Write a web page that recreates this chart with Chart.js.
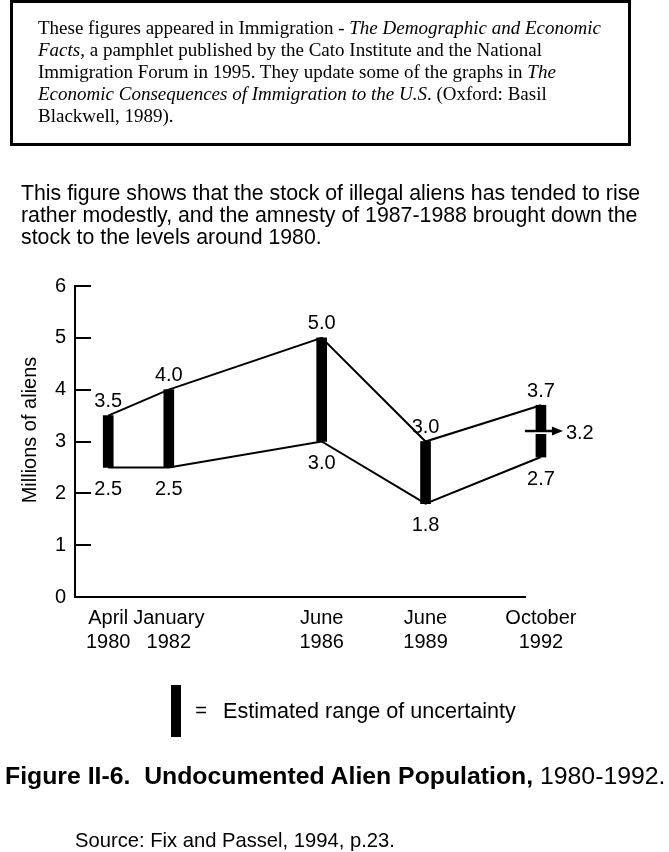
<!DOCTYPE html>
<html>
<head>
<meta charset="utf-8">
<script src="https://cdn.jsdelivr.net/npm/chart.js@4"></script>
<style>
html,body{margin:0;padding:0;background:#fff;}
body{width:669px;height:852px;position:relative;overflow:hidden;font-family:"Liberation Sans",Arial,sans-serif;color:#000;}
#c{position:absolute;left:0;top:0;}
.box{position:absolute;left:10px;top:0px;width:621px;height:146px;border:3px solid #000;box-sizing:border-box;}
.boxtext{position:absolute;left:38px;top:17px;font-family:"Liberation Serif","Times New Roman",serif;font-size:19px;line-height:22px;white-space:nowrap;}
.boxtext i{font-style:italic;}
.para{position:absolute;left:21px;top:182px;font-size:21.3px;line-height:22px;white-space:nowrap;}
.title{position:absolute;left:5px;top:762px;font-size:24.8px;line-height:28px;white-space:nowrap;}
.title b{font-weight:bold;}
.source{position:absolute;left:75px;top:828px;font-size:20.2px;line-height:24px;white-space:nowrap;}
</style>
</head>
<body>
<canvas id="c" width="669" height="852"></canvas>
<div class="box"></div>
<div class="boxtext">These figures appeared in Immigration - <i>The Demographic and Economic</i><br><i>Facts</i>, a pamphlet published by the Cato Institute and the National<br>Immigration Forum in 1995. They update some of the graphs in <i>The</i><br><i>Economic Consequences of Immigration to the U.S</i>. (Oxford: Basil<br>Blackwell, 1989).</div>
<div class="para">This figure shows that the stock of illegal aliens has tended to rise<br>rather modestly, and the amnesty of 1987-1988 brought down the<br>stock to the levels around 1980.</div>
<div class="title"><b>Figure II-6.&nbsp; Undocumented Alien Population,</b> 1980-1992.</div>
<div class="source">Source: Fix and Passel, 1994, p.23.</div>
<script>
// ---- data ----
const surveyDates = [[1980, 4], [1982, 1], [1986, 6], [1989, 6], [1992, 10]]; // [year, month]
const dateLabels = [['April', '1980'], ['January', '1982'], ['June', '1986'], ['June', '1989'], ['October', '1992']];
const highEstimates = [3.5, 4.0, 5.0, 3.0, 3.7];   // millions
const lowEstimates = [2.5, 2.5, 3.0, 1.8, 2.7];    // millions
const pointEstimateIndex = 4;
const pointEstimateValue = 3.2;
const yTickValues = [0, 1, 2, 3, 4, 5, 6];
const yAxisTitle = 'Millions of aliens';
const legendText = 'Estimated range of uncertainty';

const decimalDates = surveyDates.map(d => d[0] + (d[1] - 1) / 12);

const FONT = '"Liberation Sans", Arial, sans-serif';

const drawExtras = {
  id: 'drawExtras',
  afterDraw(chart) {
    const ctx = chart.ctx;
    const xs = chart.scales.x, ys = chart.scales.y;
    const area = chart.chartArea;
    ctx.save();
    ctx.fillStyle = '#000';
    ctx.strokeStyle = '#000';
    // inward tick marks on y axis
    ctx.lineWidth = 2;
    yTickValues.forEach(v => {
      const py = Math.round(ys.getPixelForValue(v));
      ctx.beginPath();
      ctx.moveTo(area.left, py);
      ctx.lineTo(area.left + 16, py);
      ctx.stroke();
    });
    // y axis title
    ctx.save();
    ctx.translate(30, 430);
    ctx.rotate(-Math.PI / 2);
    ctx.font = '20px ' + FONT;
    ctx.textAlign = 'center';
    ctx.textBaseline = 'middle';
    ctx.fillText(yAxisTitle, 0, 0);
    ctx.restore();
    // x labels (two lines)
    ctx.font = '20px ' + FONT;
    ctx.textAlign = 'center';
    ctx.textBaseline = 'middle';
    decimalDates.forEach((d, i) => {
      const px = xs.getPixelForValue(d);
      ctx.fillText(dateLabels[i][0], px, area.bottom + 21);
      ctx.fillText(dateLabels[i][1], px, area.bottom + 45);
    });
    // value labels
    decimalDates.forEach((d, i) => {
      const px = xs.getPixelForValue(d);
      ctx.fillText(highEstimates[i].toFixed(1), px, ys.getPixelForValue(highEstimates[i]) - 14);
      ctx.fillText(lowEstimates[i].toFixed(1), px, ys.getPixelForValue(lowEstimates[i]) + 22);
    });
    // point estimate arrow
    const apx = xs.getPixelForValue(decimalDates[pointEstimateIndex]);
    const apy = Math.round(ys.getPixelForValue(pointEstimateValue));
    ctx.fillStyle = '#fff';
    ctx.fillRect(apx - 6, apy + 1, 12, 2);
    ctx.fillStyle = '#000';
    ctx.lineWidth = 2.5;
    ctx.beginPath();
    ctx.moveTo(apx - 16, apy);
    ctx.lineTo(apx + 13, apy);
    ctx.stroke();
    ctx.beginPath();
    ctx.moveTo(apx + 22, apy);
    ctx.lineTo(apx + 11, apy - 4.5);
    ctx.lineTo(apx + 11, apy + 4.5);
    ctx.closePath();
    ctx.fill();
    ctx.textAlign = 'left';
    ctx.fillText(pointEstimateValue.toFixed(1), apx + 25, apy + 2);
    // legend
    ctx.fillRect(171, 685, 10, 52);
    ctx.textAlign = 'center';
    ctx.fillText('=', 201, 711);
    ctx.textAlign = 'left';
    ctx.font = '21.6px ' + FONT;
    ctx.fillText(legendText, 223, 712);
    ctx.restore();
  }
};

new Chart(document.getElementById('c'), {
  type: 'line',
  data: {
    datasets: [
      {
        type: 'bar',
        data: decimalDates.map((d, i) => ({x: d, y: [lowEstimates[i], highEstimates[i]]})),
        backgroundColor: '#000',
        borderWidth: 0,
        barThickness: 10,
        clip: false
      },
      {
        type: 'line',
        data: decimalDates.map((d, i) => ({x: d, y: highEstimates[i]})),
        borderColor: '#000',
        borderWidth: 2,
        pointRadius: 0,
        tension: 0,
        clip: false
      },
      {
        type: 'line',
        data: decimalDates.map((d, i) => ({x: d, y: lowEstimates[i]})),
        borderColor: '#000',
        borderWidth: 2,
        pointRadius: 0,
        tension: 0,
        clip: false
      }
    ]
  },
  options: {
    responsive: false,
    animation: false,
    layout: {padding: {left: 35, top: 286, right: 144, bottom: 255}},
    plugins: {legend: {display: false}, tooltip: {enabled: false}, title: {display: false}},
    scales: {
      x: {
        type: 'linear',
        min: 1979.29,
        max: 1992.29,
        offset: false,
        grid: {display: false, drawTicks: false},
        border: {display: true, color: '#000', width: 2},
        ticks: {display: false}
      },
      y: {
        min: 0,
        max: 6,
        grid: {display: false, drawTicks: false},
        border: {display: true, color: '#000', width: 2},
        ticks: {
          stepSize: 1,
          color: '#000',
          padding: 9,
          font: {family: FONT, size: 20}
        },
        afterBuildTicks: s => { s.ticks = yTickValues.map(v => ({value: v})); },
        afterFit: s => { s.width = 40; }
      }
    }
  },
  plugins: [drawExtras]
});
</script>
</body>
</html>
